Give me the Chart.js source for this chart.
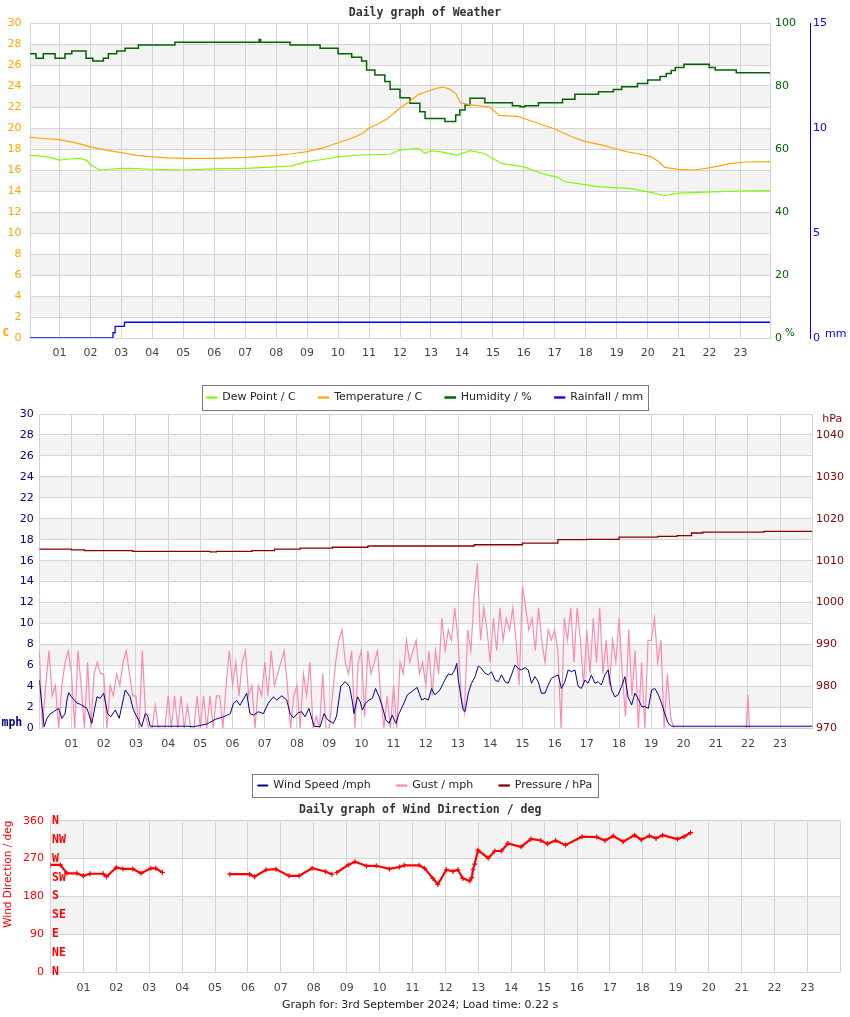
<!DOCTYPE html>
<html><head><meta charset="utf-8">
<script src="https://cdn.jsdelivr.net/npm/chart.js@4.4.1/dist/chart.umd.min.js"></script>
<style>
html,body{margin:0;padding:0;background:#fff;}
body{width:850px;height:1017px;position:relative;overflow:hidden;}
canvas{position:absolute;left:0;}
#c1{top:0;z-index:3;} #c2{top:390px;z-index:2;} #c3{top:795px;z-index:1;}
</style></head><body>
<canvas id="c1" width="850" height="413"></canvas>
<canvas id="c2" width="850" height="411"></canvas>
<canvas id="c3" width="850" height="222"></canvas>
<script>
// ---------- data ----------
const hourTicks = [1,2,3,4,5,6,7,8,9,10,11,12,13,14,15,16,17,18,19,20,21,22,23];
const hourLabels = ['01','02','03','04','05','06','07','08','09','10','11','12','13','14','15','16','17','18','19','20','21','22','23'];

const tempHours = [0.05,0.5,1.0,1.5,2.0,2.5,3.0,3.5,4.0,4.5,5.0,6.0,7.0,7.5,8.0,8.5,9.0,9.5,10.0,10.5,10.8,11.0,11.3,11.6,12.0,12.3,12.6,12.9,13.2,13.4,13.6,13.8,13.95,14.3,14.9,15.2,15.8,16.0,16.5,17.0,17.6,18.0,18.5,19.0,19.3,19.7,20.1,20.35,20.55,21.0,21.5,22.0,22.65,23.2,23.95];
const tempValues = [19.1,19.0,18.9,18.6,18.2,17.9,17.65,17.4,17.25,17.15,17.1,17.1,17.2,17.3,17.4,17.55,17.75,18.1,18.6,19.1,19.5,20.0,20.4,20.9,21.9,22.5,23.2,23.5,23.8,23.9,23.7,23.3,22.4,22.2,22.0,21.2,21.1,20.9,20.4,19.9,19.1,18.7,18.4,18.0,17.75,17.55,17.27,16.8,16.25,16.06,16.0,16.2,16.6,16.76,16.8];

const dewHours = [0.05,0.3,0.7,1.0,1.3,1.67,1.9,2.0,2.3,2.6,3.0,3.3,4.0,5.0,6.0,7.0,8.0,8.5,9.0,9.5,10.0,10.7,11.68,12.0,12.6,12.8,13.0,13.38,13.82,14.26,14.7,15.0,15.3,16.0,16.65,17.1,17.3,17.8,18.46,19.4,20.07,20.55,21.0,21.9,22.9,23.95];
const dewValues = [17.4,17.35,17.2,16.95,17.05,17.1,16.9,16.5,16.0,16.07,16.15,16.16,16.07,16.0,16.1,16.16,16.3,16.4,16.8,17.0,17.25,17.43,17.5,17.9,18.07,17.6,17.85,17.7,17.4,17.85,17.6,17.1,16.6,16.3,15.6,15.3,14.9,14.67,14.4,14.25,13.9,13.55,13.8,13.9,14.0,14.03];

const humHours = [0.05,0.245,0.48,0.86,1.18,1.4,1.86,2.08,2.42,2.58,2.85,3.12,3.55,4.73,7.45,7.5,8.45,9.42,10.0,10.44,10.76,10.92,11.19,11.51,11.68,12.0,12.32,12.64,12.81,13.45,13.8,13.93,14.1,14.26,14.74,15.63,15.88,16.04,16.47,17.25,17.65,18.41,18.89,19.16,19.67,20.0,20.4,20.6,20.76,20.89,21.17,21.99,22.18,22.86,23.95];
const humValues = [90.2,88.8,90.2,88.8,90.2,91.1,88.8,87.9,88.8,90.2,91.1,92.0,93.0,93.9,94.8,93.9,93.0,92.0,90.2,89.1,87.9,85.1,83.5,81.4,79.0,76.3,74.5,71.8,69.7,68.7,70.8,72.4,74.0,76.1,74.7,73.7,73.4,73.7,74.7,75.8,77.4,78.2,78.9,79.8,80.8,81.9,83.0,84.0,84.9,85.9,86.9,85.9,85.1,84.2,84.2];

const rainHours = [0.05,2.73,2.8,3.1,23.95];
const rainValues = [0,0.25,0.55,0.75,0.75];

const windHours = [
 0,0.15,0.24,0.34,0.44,0.6,0.7,0.8,0.86,0.91,
 1.0,1.17,1.27,1.48,1.63,1.79,1.89,2.0,2.12,2.22,
 2.36,2.48,2.67,2.82,2.92,3.08,3.18,3.29,3.36,3.44,
 4.58,4.79,5.2,5.46,5.72,5.93,6.03,6.13,6.23,6.34,
 6.44,6.54,6.65,6.8,6.96,7.11,7.27,7.37,7.53,7.68,
 7.79,7.89,8.04,8.15,8.25,8.37,8.53,8.72,8.84,8.94,
 9.13,9.23,9.36,9.49,9.63,9.72,9.77,9.88,9.96,10.03,
 10.13,10.24,10.34,10.44,10.55,10.65,10.76,10.86,10.96,11.07,
 11.17,11.32,11.43,11.63,11.73,11.87,11.97,12.08,12.18,12.28,
 12.44,12.59,12.7,12.8,12.9,12.96,13.01,13.06,13.11,13.16,
 13.22,13.32,13.42,13.53,13.63,13.73,13.84,13.94,14.04,14.15,
 14.25,14.35,14.46,14.56,14.66,14.77,14.87,14.97,15.08,15.18,
 15.28,15.39,15.49,15.59,15.7,15.8,15.9,16.0,16.11,16.21,
 16.32,16.42,16.52,16.63,16.73,16.83,16.94,17.04,17.14,17.25,
 17.35,17.45,17.56,17.66,17.77,17.87,17.97,18.08,18.18,18.28,
 18.39,18.49,18.59,18.7,18.8,18.91,19.01,19.11,19.22,19.32,
 19.42,19.53,19.63,24.0];
const windValues = [
 4.6,0.15,0.95,1.4,1.58,1.9,0.95,1.4,2.7,3.4,
 3.0,2.4,2.3,1.9,0.47,3.0,2.86,3.35,1.4,1.1,
 1.75,0.95,3.66,3.0,1.75,0.8,0.15,1.4,1.26,0.2,
 0.2,0.15,0.4,0.85,1.1,1.4,2.4,2.65,2.2,2.8,
 3.35,1.4,1.26,1.58,1.4,2.4,3.0,2.7,3.1,2.7,
 1.4,1.0,1.5,1.58,1.1,1.9,0.2,0.15,1.4,0.85,
 0.47,1.17,4.0,4.45,4.0,2.55,1.4,3.0,2.55,1.75,
 2.4,2.7,2.86,3.8,3.0,2.07,0.8,0.47,1.26,0.47,
 1.4,2.4,3.2,3.66,3.9,2.7,2.86,2.7,3.8,3.2,
 3.66,4.6,5.2,5.09,5.57,6.2,4.6,3.66,2.55,1.75,
 1.6,3.35,4.3,4.93,5.95,5.7,5.26,5.1,5.4,4.6,
 4.45,5.1,4.45,4.3,5.1,6.05,5.7,5.57,5.8,5.57,
 4.3,4.93,4.45,3.35,3.35,4.13,4.77,4.93,5.1,3.8,
 4.45,5.57,5.4,5.57,4.0,3.8,4.6,4.3,5.1,4.3,
 4.45,4.13,5.1,5.57,3.66,3.0,3.2,4.0,4.93,3.0,
 2.23,3.35,2.86,2.07,2.07,1.9,3.66,3.8,3.2,2.4,
 1.4,0.47,0.2,0.2];

const gustHours = [
 0.0,0.1,0.2,0.3,0.4,0.5,0.6,0.7,0.8,0.9,
 1.0,1.1,1.2,1.3,1.4,1.5,1.6,1.7,1.8,1.9,
 2.0,2.1,2.2,2.3,2.4,2.5,2.6,2.7,2.8,2.9,
 3.0,3.1,3.2,3.3,3.4,3.5,3.6,3.7,3.8,3.9,
 4.0,4.1,4.2,4.3,4.4,4.5,4.6,4.7,4.8,4.9,
 5.0,5.1,5.2,5.3,5.4,5.5,5.6,5.7,5.8,5.9,
 6.0,6.1,6.2,6.3,6.4,6.5,6.6,6.7,6.8,6.9,
 7.0,7.1,7.2,7.3,7.4,7.5,7.6,7.7,7.8,7.9,
 8.0,8.1,8.2,8.3,8.4,8.5,8.6,8.7,8.8,8.9,
 9.0,9.1,9.2,9.3,9.4,9.5,9.6,9.7,9.8,9.9,
 10.0,10.1,10.2,10.3,10.4,10.5,10.6,10.7,10.8,10.9,
 11.0,11.1,11.2,11.3,11.4,11.5,11.6,11.7,11.8,11.9,
 12.0,12.1,12.2,12.3,12.4,12.5,12.6,12.7,12.8,12.9,
 13.0,13.1,13.2,13.3,13.4,13.5,13.6,13.7,13.8,13.9,
 14.0,14.1,14.2,14.3,14.4,14.5,14.6,14.7,14.8,14.9,
 15.0,15.1,15.2,15.3,15.4,15.5,15.6,15.7,15.8,15.9,
 16.0,16.1,16.2,16.3,16.4,16.5,16.6,16.7,16.8,16.9,
 17.0,17.1,17.2,17.3,17.4,17.5,17.6,17.7,17.8,17.9,
 18.0,18.1,18.2,18.3,18.4,18.5,18.6,18.7,18.8,18.9,
 19.0,19.1,19.2,19.3,19.4,19.5,19.6,
 19.7,21.95,22.0,22.05,24.0];
const gustValues = [
 7.4,0,4.1,7.4,3.1,4.1,0,4.1,6.3,7.4,
 5.2,0,7.4,4.1,0,6.3,0,5.2,6.3,5.2,
 5.2,0,4.1,3.1,5.2,4.1,6.3,7.4,5.2,3.1,
 3.1,0,7.4,1.1,0,0,2.2,0,0,0,
 3.1,0,3.1,0,3.1,0,2.2,0,0,3.1,
 0,3.1,0,3.1,0,3.1,3.1,0,4.1,7.4,
 4.1,6.3,3.1,6.3,7.4,3.1,4.1,0,4.1,3.1,
 6.3,3.1,7.4,4.1,5.2,6.3,7.4,4.1,0,3.1,
 4.1,0,5.2,3.1,6.3,0,1.1,0,5.2,0,
 0,3.1,6.3,8.4,9.4,6.3,5.2,7.4,0,6.3,
 7.4,1.1,7.4,5.2,6.3,7.4,3.1,0,3.1,0,
 4.1,0,6.3,5.2,8.4,6.3,7.4,8.4,5.2,6.3,
 4.1,7.4,3.1,7.4,5.2,10.5,7.4,9.4,8.4,11.5,
 8.4,3.1,1.5,9.4,7.4,12.6,15.7,8.4,11.5,9.4,
 6.3,10.5,7.4,11.5,8.4,10.5,9.4,11.5,8.4,4.1,
 13.6,11.5,9.4,10.5,7.4,11.5,8.4,6.3,9.4,8.4,
 9.4,7.4,0,10.5,8.4,11.5,6.3,11.5,8.4,4.1,
 9.4,5.2,10.5,6.3,11.5,5.2,8.4,4.1,8.4,6.3,
 10.5,5.2,1.1,9.4,3.1,7.4,0,6.3,0,8.4,
 8.4,10.5,6.3,8.4,0,5.2,1.1,
 0,0,3.2,0,0];

const pressHours = [0,1.0,1.4,2.9,4.0,5.3,5.5,6.6,7.3,8.1,9.1,10.2,12.0,13.5,15.0,16.1,17.0,18.0,19.2,19.8,20.25,20.6,22.0,22.5,24];
const pressValues = [1012.75,1012.6,1012.4,1012.2,1012.2,1012.1,1012.2,1012.4,1012.75,1013.0,1013.2,1013.5,1013.5,1013.8,1014.2,1015.0,1015.1,1015.6,1015.8,1016.0,1016.6,1016.8,1016.8,1017.0,1017.0];
const pressTicks = [970,980,990,1000,1010,1020,1030,1040];
const pressLabels = ['970','980','990','1000','1010','1020','1030','1040'];

const dirHours = [0.0,0.3,0.5,0.8,1.0,1.2,1.6,1.7,2.0,2.2,2.5,2.75,3.05,3.2,3.4,4.4,5.45,6.05,6.2,6.55,6.85,7.25,7.55,7.95,8.35,8.55,8.6,8.7,9.05,9.25,9.6,9.9,10.3,10.6,10.75,11.2,11.37,11.62,11.77,12.03,12.23,12.38,12.53,12.74,12.8,12.84,12.89,12.99,13.3,13.5,13.7,13.9,14.3,14.6,14.9,15.1,15.35,15.65,16.15,16.6,16.85,17.1,17.4,17.75,17.95,18.2,18.4,18.6,19.05,19.25,19.45];
const dirValues = [255,255,235,235,229,234,234,227,249,245.5,245.5,235,247,247,237,null,233,233,227,243.5,245,229,229,247,239.5,233,null,237,255,262.5,252.5,253,245.5,250,254,254,247,223,209,243.5,239.5,243.5,223,217,225,243.5,257,290,271,288,288,306,298,316.5,313,305,313,302,322,321,313,323.5,310,325.7,315,324,318,325.7,316.5,322,331.6];
const compassTicks = [0,45,90,135,180,225,270,315,360];
const compassLabels = ['N','NE','E','SE','S','SW','W','NW','N'];

// ---------- helpers ----------
const FONT = 'DejaVu Sans';
const MONO = 'DejaVu Sans Mono';
const GRID = '#d4d4d4';
const BAND = '#f3f3f3';
Chart.defaults.font.family = FONT;
Chart.defaults.font.size = 11;
Chart.defaults.color = '#444';
Chart.defaults.animation = false;

const pts = (xs, ys) => xs.map((x, i) => ({x: x, y: ys[i]}));
const hourLabel = v => { const i = hourTicks.indexOf(v); return i < 0 ? '' : hourLabels[i]; };

const decor = {
  id: 'decor',
  beforeDraw(chart, args, o) {
    const {ctx, chartArea: a} = chart;
    const s = chart.scales[o.bandAxis];
    ctx.save();
    ctx.fillStyle = BAND;
    for (let i = 1; i < s.ticks.length - 1; i += 2) {
      const y1 = s.getPixelForValue(s.ticks[i].value);
      const y2 = s.getPixelForValue(s.ticks[i + 1].value);
      ctx.fillRect(a.left, y2, a.right - a.left, y1 - y2);
    }
    const lg = chart.legend;
    if (o.legendBox && lg && lg.options.display && lg.legendHitBoxes && lg.legendHitBoxes.length) {
      const hb = lg.legendHitBoxes, f = hb[0], l = hb[hb.length - 1];
      const cy = f.top + f.height / 2;
      const x1 = Math.round(f.left - o.legendBox.pad) + 0.5;
      const x2 = Math.round(l.left + l.width + o.legendBox.pad) + 0.5;
      const y1 = Math.round(cy - o.legendBox.halfH) + 0.5;
      const y2 = Math.round(cy + o.legendBox.halfH) + 0.5;
      ctx.fillStyle = '#fff';
      ctx.fillRect(x1, y1, x2 - x1, y2 - y1);
      ctx.strokeStyle = '#7a7a7a'; ctx.lineWidth = 1;
      ctx.strokeRect(x1, y1, x2 - x1, y2 - y1);
    }
    ctx.restore();
  },
  afterDraw(chart, args, o) {
    const {ctx, chartArea: a} = chart;
    (o.notes || []).forEach(n => {
      const s = chart.scales[n.axis];
      ctx.save();
      ctx.font = n.font; ctx.fillStyle = n.color;
      ctx.textAlign = 'left'; ctx.textBaseline = 'middle';
      const y = (n.vEdge === 'top' ? a.top : a.bottom) + n.dy;
      ctx.fillText(n.text, s.left + n.dx, y);
      ctx.restore();
    });
  }
};

const xHour = (min, max, ticks, h) => ({
  type: 'linear', min: min, max: max,
  afterBuildTicks: s => { s.ticks = ticks.map(v => ({value: v})); },
  afterFit: s => { s.height = h; },
  grid: {color: GRID, drawTicks: false},
  border: {display: false},
  ticks: {autoSkip: false, maxRotation: 0, padding: 9, color: '#444', font: {size: 11}, callback: hourLabel}
});
const titleFont = {family: MONO, weight: 'bold', size: 11.5};

// ---------- chart 1: weather ----------
new Chart(document.getElementById('c1'), {
  type: 'line',
  data: {datasets: [
    {label: 'Dew Point / C', data: pts(dewHours, dewValues), yAxisID: 'y', borderColor: '#7CFC00', backgroundColor: '#7CFC00', borderWidth: 1.2, pointRadius: 0},
    {label: 'Temperature / C', data: pts(tempHours, tempValues), yAxisID: 'y', borderColor: '#FFA500', backgroundColor: '#FFA500', borderWidth: 1.2, pointRadius: 0},
    {label: 'Humidity / %', data: pts(humHours, humValues), yAxisID: 'yH', borderColor: '#006400', backgroundColor: '#006400', borderWidth: 1.5, pointRadius: 0, stepped: true},
    {label: 'Rainfall / mm', data: pts(rainHours, rainValues), yAxisID: 'yR', borderColor: '#0000FF', backgroundColor: '#0000FF', borderWidth: 1.3, pointRadius: 0, stepped: true}
  ]},
  options: {
    responsive: false, events: [], layout: {padding: 0},
    scales: {
      x: xHour(0.05, 23.95, hourTicks, 31),
      y: {position: 'left', min: 0, max: 30, afterFit: s => { s.width = 30; },
          ticks: {stepSize: 2, color: '#FFA500', padding: 8.5, font: {size: 11}},
          grid: {color: GRID, drawTicks: false}, border: {color: GRID}},
      yH: {position: 'right', weight: 0, min: 0, max: 100, afterFit: s => { s.width = 40; },
          ticks: {stepSize: 20, color: '#006400', padding: 5, font: {size: 11}},
          grid: {display: false, drawTicks: false}, border: {color: GRID}},
      yR: {position: 'right', weight: 1, min: 0, max: 15, afterFit: s => { s.width = 40; },
          ticks: {stepSize: 5, color: '#0000FF', padding: 3, font: {size: 11}},
          grid: {display: false, drawTicks: false}, border: {color: '#0000FF'}}
    },
    plugins: {
      title: {display: true, text: 'Daily graph of Weather', color: '#333', font: titleFont, padding: {top: 6, bottom: 3.2}},
      legend: {position: 'bottom', labels: {boxWidth: 10, boxHeight: 1, padding: 23, color: '#222', font: {size: 11}}},
      tooltip: {enabled: false},
      decor: {bandAxis: 'y', legendBox: {pad: 5, halfH: 12.3}, notes: [
        {text: 'C', axis: 'y', dx: 2.5, vEdge: 'bottom', dy: -4.5, font: 'bold 11px "DejaVu Sans Mono"', color: '#FFA500'},
        {text: '%', axis: 'yH', dx: 15, vEdge: 'bottom', dy: -5, font: '10px "DejaVu Sans"', color: '#006400'},
        {text: 'mm', axis: 'yR', dx: 15, vEdge: 'bottom', dy: -3.5, font: '11px "DejaVu Sans"', color: '#0000FF'}
      ]}
    }
  },
  plugins: [decor]
});

// ---------- chart 2: wind speed ----------
new Chart(document.getElementById('c2'), {
  type: 'line',
  data: {datasets: [
    {label: 'Wind Speed /mph', data: pts(windHours, windValues), yAxisID: 'y', borderColor: '#00008B', backgroundColor: '#00008B', borderWidth: 1, pointRadius: 0},
    {label: 'Gust / mph', data: pts(gustHours, gustValues), yAxisID: 'y', borderColor: '#FF88B0', backgroundColor: '#FF88B0', borderWidth: 1.2, pointRadius: 0},
    {label: 'Pressure / hPa', data: pts(pressHours, pressValues), yAxisID: 'yP', borderColor: '#8B0000', backgroundColor: '#8B0000', borderWidth: 1.3, pointRadius: 0, stepped: true}
  ]},
  options: {
    responsive: false, events: [], layout: {padding: 0},
    scales: {
      x: xHour(0, 24, hourTicks, 25.7),
      y: {position: 'left', min: 0, max: 30, afterFit: s => { s.width = 39.3; },
          ticks: {stepSize: 2, color: '#000080', padding: 5.5, font: {size: 11}},
          grid: {color: GRID, drawTicks: false}, border: {color: GRID}},
      yP: {position: 'right', min: 970, max: 1045, afterFit: s => { s.width = 37.7; },
          afterBuildTicks: s => { s.ticks = pressTicks.map(v => ({value: v})); },
          ticks: {color: '#8B0000', padding: 3.7, font: {size: 11},
                  callback: v => pressLabels[pressTicks.indexOf(v)]},
          grid: {display: false, drawTicks: false}, border: {color: GRID}}
    },
    plugins: {
      title: {display: true, text: 'Daily graph of Wind Speed / mph', color: '#333', font: {family: MONO, weight: 'bold', size: 9}, padding: {top: 9.6, bottom: 3.6}},
      legend: {position: 'bottom', labels: {boxWidth: 10, boxHeight: 1, padding: 26, color: '#222', font: {size: 11}}},
      tooltip: {enabled: false},
      decor: {bandAxis: 'y', legendBox: {pad: 5.5, halfH: 11.7}, notes: [
        {text: 'mph', axis: 'y', dx: 1.5, vEdge: 'bottom', dy: -5.3, font: 'bold 11.5px "DejaVu Sans Mono"', color: '#000080'},
        {text: 'hPa', axis: 'yP', dx: 10, vEdge: 'top', dy: 5, font: '11px "DejaVu Sans"', color: '#8B0000'}
      ]}
    }
  },
  plugins: [decor]
});

// ---------- chart 3: wind direction ----------
new Chart(document.getElementById('c3'), {
  type: 'line',
  data: {datasets: [
    {label: 'Wind Direction / deg', data: pts(dirHours, dirValues), yAxisID: 'y', borderColor: '#FF0000', backgroundColor: '#FF0000', borderWidth: 2.2, pointStyle: 'cross', pointRadius: 2.5, pointBorderWidth: 1.2, spanGaps: false}
  ]},
  options: {
    responsive: false, events: [], layout: {padding: {right: 9.7}},
    scales: {
      x: xHour(0, 24, [0].concat(hourTicks, [24]), 22.1),
      y: {position: 'left', weight: 1, min: 0, max: 360, afterFit: s => { s.width = 50.5; },
          ticks: {stepSize: 90, color: '#FF0000', padding: 6.5, font: {size: 11}},
          title: {display: true, text: 'Wind Direction / deg', color: '#FF0000', font: {size: 10.5}, align: 'end', padding: {top: 2.4, bottom: 0}},
          grid: {color: GRID, drawTicks: false}, border: {color: GRID}},
      yC: {position: 'left', weight: 0, min: 0, max: 360, afterFit: s => { s.width = 0; },
          afterBuildTicks: s => { s.ticks = compassTicks.map(v => ({value: v})); },
          ticks: {mirror: true, padding: 1.5, color: '#FF0000', font: {family: MONO, weight: 'bold', size: 11.5},
                  callback: v => compassLabels[compassTicks.indexOf(v)]},
          grid: {display: false, drawTicks: false}, border: {display: false}}
    },
    plugins: {
      title: {display: true, text: 'Daily graph of Wind Direction / deg', color: '#333', font: titleFont, padding: {top: 8.1, bottom: 3.8}},
      subtitle: {display: true, position: 'bottom', text: 'Graph for: 3rd September 2024; Load time: 0.22 s', color: '#222', font: {size: 11}, padding: {top: 4, bottom: 5.4}},
      legend: {display: false},
      tooltip: {enabled: false},
      decor: {bandAxis: 'y', notes: []}
    }
  },
  plugins: [decor]
});
</script>
</body></html>
